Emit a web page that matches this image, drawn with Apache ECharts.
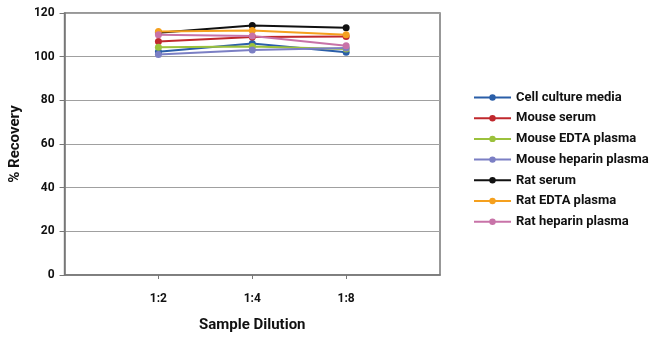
<!DOCTYPE html>
<html><head><meta charset="utf-8">
<script src="https://cdn.jsdelivr.net/npm/echarts@6/dist/echarts.min.js"></script>
<style>html,body{margin:0;padding:0;background:#fff}#c{width:650px;height:341px}</style>
</head><body><div id="c"></div>
<script>
const categories = ['', '1:2', '1:4', '1:8', ''];
const seriesNames = ['Cell culture media','Mouse serum','Mouse EDTA plasma','Mouse heparin plasma','Rat serum','Rat EDTA plasma','Rat heparin plasma'];
const cellCulture   = [null, 102.3, 106.0, 102.0, null];
const mouseSerum    = [null, 107.0, 109.0, 109.2, null];
const mouseEdta     = [null, 104.3, 104.6, 103.5, null];
const mouseHeparin  = [null, 101.0, 103.0, 104.0, null];
const ratSerum      = [null, 111.0, 114.3, 113.2, null];
const ratEdta       = [null, 111.5, 112.0, 110.0, null];
const ratHeparin    = [null, 110.0, 109.5, 105.0, null];
const yTicks = [0, 20, 40, 60, 80, 100, 120];
const colors = ['#2a5ea8','#c0282d','#9bc13c','#7b7fc4','#111111','#f5a01e','#c873a8'];
const values = [cellCulture, mouseSerum, mouseEdta, mouseHeparin, ratSerum, ratEdta, ratHeparin];
const font = "'Roboto', 'Liberation Sans', sans-serif";

const chart = echarts.init(document.getElementById('c'), null, {renderer: 'canvas'});
chart.setOption({
  animation: false,
  color: colors,
  textStyle: {fontFamily: font},
  grid: {left: 63, right: 210, top: 13, bottom: 66, show: true, borderColor: '#777', borderWidth: 1.5, backgroundColor: 'transparent'},
  legend: {
    orient: 'vertical', left: 468, top: 86, itemGap: 7.7, itemWidth: 37, itemHeight: 8,
    data: seriesNames,
    textStyle: {fontFamily: font, fontWeight: 'bold', fontSize: 13, color: '#111'}
  },
  xAxis: {
    type: 'category', data: categories, boundaryGap: false,
    name: 'Sample Dilution', nameLocation: 'middle', nameGap: 43,
    nameTextStyle: {fontFamily: font, fontWeight: 'bold', fontSize: 15, color: '#111'},
    axisLine: {lineStyle: {color: '#777', width: 1.5}},
    axisTick: {show: true, length: 4, lineStyle: {color: '#777'}, interval: (i, v) => v !== ''},
    axisLabel: {interval: 0, margin: 18, fontFamily: font, fontWeight: 'bold', fontSize: 12, color: '#111'},
    splitLine: {show: false}
  },
  yAxis: {
    type: 'value', min: yTicks[0], max: yTicks[yTicks.length - 1], interval: yTicks[1] - yTicks[0],
    name: '% Recovery', nameLocation: 'middle', nameGap: 40,
    nameTextStyle: {fontFamily: font, fontWeight: 'bold', fontSize: 15, color: '#111'},
    axisLine: {show: true, lineStyle: {color: '#777', width: 1.5}},
    axisTick: {show: true, length: 5, lineStyle: {color: '#777'}},
    axisLabel: {margin: 10, fontFamily: font, fontWeight: 'bold', fontSize: 12, color: '#111'},
    splitLine: {show: true, lineStyle: {color: '#a0a0a0', width: 1}}
  },
  series: seriesNames.map((n, i) => ({
    name: n, type: 'line', data: values[i], symbol: 'circle', symbolSize: 7,
    lineStyle: {width: 2, color: colors[i]}, itemStyle: {color: colors[i]}
  }))
});
</script></body></html>
